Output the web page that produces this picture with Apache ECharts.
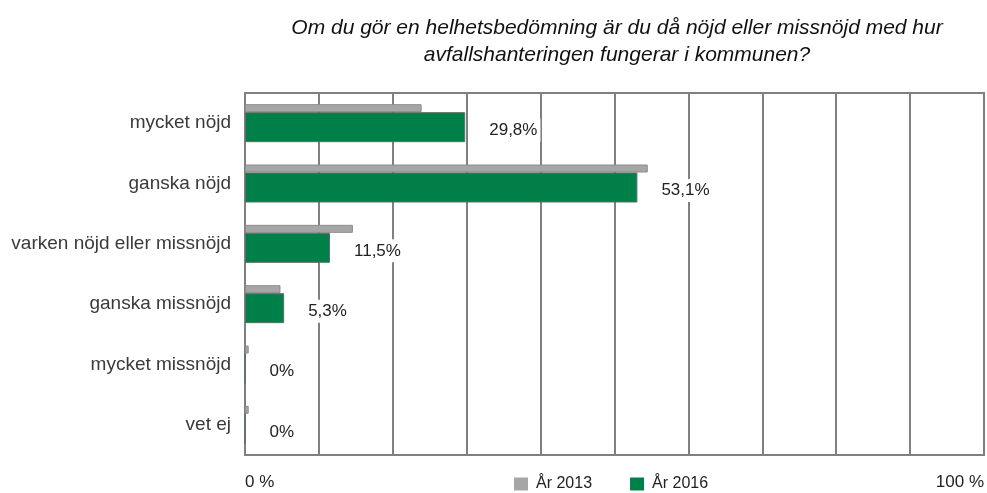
<!DOCTYPE html>
<html lang="sv">
<head>
    <meta charset="UTF-8">
    <title>Avfallshantering</title>
    <script src="https://cdn.jsdelivr.net/npm/echarts@6/dist/echarts.min.js"></script>
    <style>
        body, html {
            margin: 0;
            height: 100%;
            background: #fff;
        }

        #chart {
            width: 987px;
            height: 493px;
        }
    </style>
</head>
<body>
<div id="chart"></div>
<script>
    const titleText = 'Om du gör en helhetsbedömning är du då nöjd eller missnöjd med hur\navfallshanteringen fungerar i kommunen?';
    const categories = ['mycket nöjd', 'ganska nöjd', 'varken nöjd eller missnöjd', 'ganska missnöjd', 'mycket missnöjd', 'vet ej'];
    const seriesNames = ['År 2013', 'År 2016'];
    const values2013 = [23.9, 54.5, 14.6, 4.8, 0.5, 0.5];
    const values2016 = [29.8, 53.1, 11.5, 5.3, 0, 0];
    const axisTicks = [0, 100];

    const chart = echarts.init(document.getElementById('chart'));

    const option = {
        animation: false,
        title: {
            text: titleText,
            left: 612,
            top: 10,
            textAlign: 'center',
            textStyle: {
                fontFamily: 'Liberation Sans',
                fontStyle: 'italic',
                fontWeight: 'normal',
                fontSize: 21,
                lineHeight: 27,
                color: '#111'
            }
        },
        legend: {
            data: seriesNames,
            left: 509,
            top: 471,
            itemWidth: 14,
            itemHeight: 13,
            itemGap: 38,
            icon: 'rect',
            itemStyle: {borderWidth: 0},
            textStyle: {fontFamily: 'Liberation Sans', fontSize: 16, color: '#222', padding: [0, 0, 0, 3]}
        },
        grid: {
            left: 245,
            right: 0,
            top: 93,
            bottom: 38,
            show: true,
            borderColor: '#808080',
            borderWidth: 2
        },
        xAxis: {
            type: 'value',
            min: 0,
            max: 100,
            interval: 10,
            axisLine: {show: false},
            axisTick: {show: false},
            splitLine: {lineStyle: {color: '#808080', width: 2}},
            axisLabel: {
                margin: 19,
                fontFamily: 'Liberation Sans',
                fontSize: 17,
                color: '#222',
                alignMinLabel: 'left',
                alignMaxLabel: 'right',
                formatter: function (v) {
                    return axisTicks.indexOf(v) >= 0 ? v + ' %' : '';
                }
            }
        },
        yAxis: {
            type: 'category',
            data: categories,
            inverse: true,
            axisTick: {show: false},
            axisLine: {lineStyle: {color: '#808080', width: 2}},
            axisLabel: {
                margin: 14,
                fontFamily: 'Liberation Sans',
                fontSize: 19,
                color: '#3a3a3a'
            }
        },
        series: [
            {
                name: seriesNames[0],
                type: 'bar',
                data: values2013,
                barWidth: 8,
                barGap: '0%',
                itemStyle: {color: '#a6a6a6', borderColor: '#8c8c8c', borderWidth: 1}
            },
            {
                name: seriesNames[1],
                type: 'bar',
                data: values2016,
                barWidth: 30,
                barGap: '0%',
                itemStyle: {color: '#008049', borderColor: '#5f6f66', borderWidth: 1},
                label: {
                    show: true,
                    position: 'right',
                    distance: 21,
                    offset: [0, 3],
                    fontFamily: 'Liberation Sans',
                    fontSize: 17,
                    color: '#222',
                    backgroundColor: '#fff',
                    padding: [3, 3],
                    formatter: function (p) {
                        return String(p.value).replace('.', ',') + '%';
                    }
                }
            }
        ]
    };

    chart.setOption(option);
</script>
</body>
</html>
